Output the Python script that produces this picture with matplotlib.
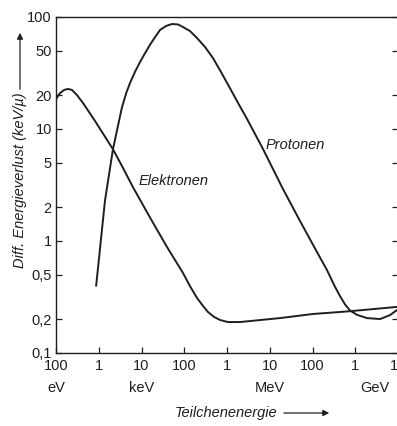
import matplotlib
matplotlib.use("Agg")
import matplotlib.pyplot as plt
import matplotlib.patches as mpatches
import matplotlib.transforms as mtransforms

# ---- data ----
electron_E = [1e2, 1.24e2, 1.54e2, 1.91e2, 2.37e2, 3.09e2, 4.27e2, 8.17e2,
              2.15e3, 3.69e3, 6.3e3, 1.58e4, 3.95e4, 9.35e4, 1.36e5, 1.99e5,
              2.75e5, 3.6e5, 4.97e5, 6.9e5, 1.05e6, 2.0e6, 1.74e7, 1.02e8,
              6.5e8, 9.5e9]
electron_V = [18.5, 20.9, 22.3, 22.8, 22.3, 20.1, 17.1, 11.8,
              6.6, 4.49, 3.03, 1.62, 0.884, 0.518, 0.396, 0.310,
              0.263, 0.232, 0.210, 0.197, 0.189, 0.189, 0.205, 0.223,
              0.235, 0.258]

proton_E = [8.7e2, 1.4e3, 2.15e3, 3.46e3, 4.4e3, 5.4e3, 7.1e3, 9.2e3, 1.21e4,
            1.58e4, 2.07e4, 2.71e4, 3.74e4, 5.17e4, 7.14e4, 9.35e4, 1.36e5,
            1.99e5, 3.06e5, 4.7e5, 7.24e5, 1.17e6, 1.81e6, 2.94e6, 6.95e6,
            2.04e7, 5.1e7, 1.27e8, 2.18e8, 3.36e8, 4.4e8, 5.75e8, 7.5e8,
            1.1e9, 1.88e9, 3.8e9, 6.5e9, 9.5e9]
proton_V = [0.40, 2.3, 6.6, 15.4, 21.0, 25.8, 32.6, 39.5, 47.5,
            56.5, 66, 76.6, 83.1, 86.6, 85.8, 81.4, 75,
            64.9, 54, 43, 32.3, 23.2, 17.1, 12.3, 6.63,
            2.91, 1.51, 0.798, 0.551, 0.390, 0.322, 0.272, 0.240,
            0.219, 0.205, 0.201, 0.218, 0.242]

x_ticks = [1e2, 1e3, 1e4, 1e5, 1e6, 1e7, 1e8, 1e9, 1e10]
x_ticklabels = ["100", "1", "10", "100", "1", "10", "100", "1", "10"]
unit_pos = [1e2, 1e4, 1e7, 2.9e9]
unit_labels = ["eV", "keV", "MeV", "GeV"]
y_ticks = [0.1, 0.2, 0.5, 1, 2, 5, 10, 20, 50, 100]
y_ticklabels = ["0,1", "0,2", "0,5", "1", "2", "5", "10", "20", "50", "100"]

plt.rcParams["font.family"] = ["Liberation Sans", "DejaVu Sans"]
fs = 10.5
ink = "#1e1e1e"

fig = plt.figure(figsize=(3.97, 4.26), dpi=100)
ax = fig.add_axes([56 / 397, 1 - 353 / 426, 342 / 397, 336 / 426])

ax.plot(electron_E, electron_V, color=ink, lw=1.4, solid_joinstyle="round")
ax.plot(proton_E, proton_V, color=ink, lw=1.4, solid_joinstyle="round")

ax.set_xscale("log")
ax.set_yscale("log")
ax.set_xlim(1e2, 1e10)
ax.set_ylim(0.1, 100)

ax.set_xticks(x_ticks)
ax.set_xticklabels(x_ticklabels, fontsize=fs)
ax.set_yticks(y_ticks)
ax.set_yticklabels(y_ticklabels, fontsize=fs)
ax.minorticks_off()
ax.tick_params(axis="both", direction="in", length=4, width=0.9, color=ink,
               labelcolor=ink)
ax.tick_params(axis="y", right=True, pad=3)
ax.tick_params(axis="x", pad=4)
for s in ax.spines.values():
    s.set_linewidth(1.0)
    s.set_color(ink)

# unit labels under the x tick labels
trans = mtransforms.blended_transform_factory(ax.transData, fig.transFigure)
for xp, lab in zip(unit_pos, unit_labels):
    ax.text(xp, 1 - 388 / 426, lab, transform=trans, ha="center", va="center",
            fontsize=fs, color=ink)

# curve labels
ax.text(5.5e4, 3.4, "Elektronen", style="italic", fontsize=fs, ha="center",
        va="center", color=ink)
ax.text(3.9e7, 7.2, "Protonen", style="italic", fontsize=fs, ha="center",
        va="center", color=ink)

# axis titles with arrows
fig.text(20 / 397, 1 - 180 / 426, "Diff. Energieverlust (keV/µ)", rotation=90,
         style="italic", fontsize=fs, ha="center", va="center", color=ink)
fig.text(226 / 397, 1 - 413 / 426, "Teilchenenergie", style="italic",
         fontsize=fs, ha="center", va="center", color=ink)
fig.add_artist(mpatches.FancyArrowPatch(
    (281 / 397, 1 - 413 / 426), (332 / 397, 1 - 413 / 426),
    transform=fig.transFigure, arrowstyle="-|>", mutation_scale=9,
    lw=0.9, color=ink))
fig.add_artist(mpatches.FancyArrowPatch(
    (20 / 397, 1 - 92 / 426), (20 / 397, 1 - 30 / 426),
    transform=fig.transFigure, arrowstyle="-|>", mutation_scale=9,
    lw=0.9, color=ink))

fig.savefig("out.png", dpi=100, facecolor="white")
